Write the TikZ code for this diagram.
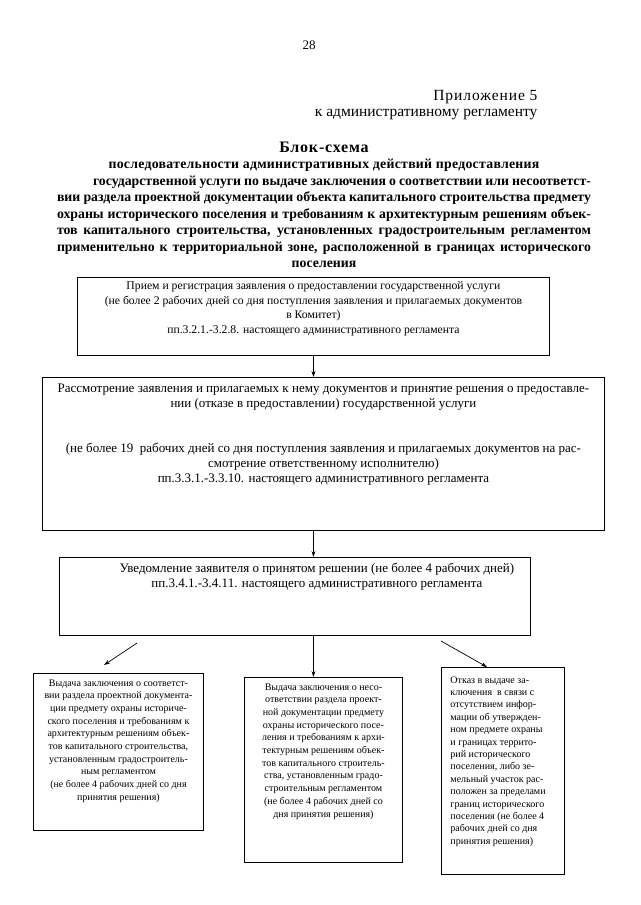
\documentclass[tikz,border=0pt]{standalone}
\usepackage{fontspec}
\setmainfont{Liberation Serif}
\usetikzlibrary{arrows.meta}

\tikzset{
  box/.style={draw, line width=0.9pt, anchor=north west, inner sep=4pt},
  arr/.style={-{Stealth[length=6pt,width=4pt]}, line width=0.7pt},
}
\newcommand{\regfont}{\fontsize{11.7}{14.7}\selectfont}
\newcommand{\boxfont}{\fontsize{13}{15}\selectfont}
\newcommand{\smallfont}{\fontsize{10}{12.7}\selectfont}

\begin{document}
\begin{tikzpicture}[x=1pt, y=-1pt]
    \fill[white] (0,0) rectangle (640,905);

    % header
    \node[font=\fontsize{13}{15}\selectfont] (page) at (309,45) {28};
    \node[anchor=east, font=\fontsize{15.5}{18}\selectfont\addfontfeature{LetterSpace=6}] (app) at (541,97) {Приложение 5};
    \node[anchor=east, font=\fontsize{15.5}{18}\selectfont] (appreg) at (541,115) {к административному регламенту};

    \node[anchor=north, text width=534pt, align=justify, font=\bfseries\fontsize{13.8}{16.5}\selectfont] (title) at (324,138)
        {\hyphenpenalty=10000\tolerance=10000
         {\centering{\fontsize{16}{16.5}\selectfont\addfontfeature{LetterSpace=5}Блок-схема}\\
         {\addfontfeature{LetterSpace=2}последовательности административных действий предоставления}\par}
         {\parfillskip=0pt
         \hspace*{36pt}государственной услуги по выдаче заключения о соответствии или несоответст-\linebreak
         вии раздела проектной документации объекта капитального строительства предмету\linebreak
         охраны исторического поселения и требованиям к архитектурным решениям объек-\linebreak
         тов капитального строительства, установленных градостроительным регламентом\linebreak
         применительно к территориальной зоне, расположенной в границах исторического\par}
         {\centering поселения\par}};

    % boxes
    \node[box] (reg) at (77,277) {\parbox[t][70pt][t]{464pt}{\centering\regfont
        Прием и регистрация заявления о предоставлении государственной услуги\\
        (не более 2 рабочих дней со дня поступления заявления и прилагаемых документов\\
        в Комитет)\\
        пп.3.2.1.-3.2.8. настоящего административного регламента}};

    \node[box] (review) at (42,377) {\parbox[t][145pt][t]{554pt}{\centering\boxfont
        \vspace*{3pt}
        Рассмотрение заявления и прилагаемых к нему документов и принятие решения о предоставле-\\
        нии (отказе в предоставлении) государственной услуги\\[30pt]
        (не более 19\ \ рабочих дней со дня поступления заявления и прилагаемых документов на рас-\\
        смотрение ответственному исполнителю)\\
        пп.3.3.1.-3.3.10. настоящего административного регламента}};

    \node[box] (notice) at (59,557) {\parbox[t][70pt][t]{463pt}{\centering\leftskip=44pt plus 1fil\boxfont
        \vspace*{2pt}
        Уведомление заявителя о принятом решении (не более 4 рабочих дней)\\
        пп.3.4.1.-3.4.11. настоящего административного регламента}};

    \node[box, inner sep=5pt] (yes) at (33,673) {\parbox[t][147pt][t]{160pt}{\centering\smallfont
        \vspace*{1pt}
        Выдача заключения о соответст-\\
        вии раздела проектной документа-\\
        ции предмету охраны историче-\\
        ского поселения и требованиям к\\
        архитектурным решениям объек-\\
        тов капитального строительства,\\
        установленным градостроитель-\\
        ным регламентом\\
        (не более 4 рабочих дней со дня\\
        принятия решения)}};

    \node[box, inner sep=5pt] (no) at (244,677) {\parbox[t][175pt][t]{148pt}{\centering\smallfont
        \vspace*{1pt}
        Выдача заключения о несо-\\
        ответствии раздела проект-\\
        ной документации предмету\\
        охраны исторического посе-\\
        ления и требованиям к архи-\\
        тектурным решениям объек-\\
        тов капитального строитель-\\
        ства, установленным градо-\\
        строительным регламентом\\
        (не более 4 рабочих дней со\\
        дня принятия решения)}};

    \node[box, inner xsep=9pt, inner ysep=5pt] (refuse) at (441,667) {\parbox[t][197pt][t]{105pt}{\raggedright\fontsize{10}{12.4}\selectfont
        \vspace*{4pt}
        Отказ в выдаче за-\\
        ключения\ \ в связи с\\
        отсутствием инфор-\\
        мации об утвержден-\\
        ном предмете охраны\\
        и границах террито-\\
        рий исторического\\
        поселения, либо зе-\\
        мельный участок рас-\\
        положен за пределами\\
        границ исторического\\
        поселения (не более 4\\
        рабочих дней со дня\\
        принятия решения)}};

    % arrows
    \coordinate (lstart) at (137,643);
    \coordinate (lend) at (104,665);
    \coordinate (rstart) at (441,641);
    \coordinate (rend) at (487,667);

    \draw[arr] (reg.south) -- (reg.south |- review.north);
    \draw[arr] (reg.south |- review.south) -- (reg.south |- notice.north);
    \draw[arr] (reg.south |- notice.south) -- (reg.south |- no.north);
    \draw[arr] (lstart) -- (lend);
    \draw[arr] (rstart) -- (rend);
\end{tikzpicture}
\end{document}
